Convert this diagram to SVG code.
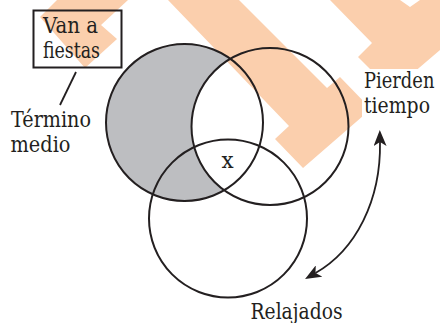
<svg xmlns="http://www.w3.org/2000/svg" width="440" height="323" viewBox="0 0 440 323">
<style>
.wm{fill:#fbcfad;stroke:none}
.ring{fill:none;stroke:#231f20;stroke-width:2}
.ln{fill:none;stroke:#231f20;stroke-width:1.8}
.t{font-family:"DejaVu Serif","Liberation Serif",serif;font-size:21.5px;fill:#231f20}
</style>
<defs>
<marker id="ah" viewBox="0 0 16 13" refX="4" refY="6.5" markerWidth="16" markerHeight="13" markerUnits="userSpaceOnUse" orient="auto-start-reverse">
<path d="M16,6.5 L0,0 L4,6.5 L0,13 Z" fill="#231f20"/>
</marker>
</defs>
<rect width="440" height="323" fill="#ffffff"/>
<g id="watermark">
<polygon class="wm" points="57,0 128,0 101,25 117,39 85,68 40,17"/>
<polygon class="wm" points="168,0 239,0 327,88 340,77 371,109 303,168 275,139 289,126"/>
<polygon class="wm" points="330,0 400,0 410,7 420,0 440,0 440,50 392,91 358,57 372,43"/>
</g>
<g id="shade">
<path d="M230.3,58.8 A78.5,78.5 0 1 0 224.2,190.2 A78.5,78.5 0 0 1 230.3,58.8 Z" fill="#bdbec1"/>
</g>
<g id="circle-fiestas"><circle class="ring" cx="184.5" cy="122.5" r="78.5"/></g>
<g id="circle-pierden"><circle class="ring" cx="270" cy="126.5" r="78.5"/></g>
<g id="circle-relajados"><circle class="ring" cx="228" cy="218.5" r="79"/></g>
<g id="connectors">
<line class="ln" x1="76" y1="72" x2="60" y2="105"/>
<path class="ln" d="M380,142 C381,200 356,250 315.5,273" marker-start="url(#ah)" marker-end="url(#ah)"/>
</g>
<g id="label-van-a-fiestas">
<rect x="33.5" y="10.5" width="88" height="57" fill="none" stroke="#231f20" stroke-width="2"/>
<text class="t" x="43" y="32.7" textLength="55" lengthAdjust="spacingAndGlyphs">Van a</text>
<text class="t" x="43" y="58.3" textLength="57" lengthAdjust="spacingAndGlyphs">fiestas</text>
</g>
<g id="label-termino-medio">
<text class="t" x="11" y="126.7" textLength="80" lengthAdjust="spacingAndGlyphs">Término</text>
<text class="t" x="10.5" y="151.7" textLength="60" lengthAdjust="spacingAndGlyphs">medio</text>
</g>
<g id="label-pierden-tiempo">
<rect x="362" y="69" width="78" height="51" fill="#ffffff"/>
<text class="t" transform="translate(364,87.7) scale(0.8,1)" x="0" y="0" textLength="88" lengthAdjust="spacingAndGlyphs">Pierden</text>
<text class="t" transform="translate(364,113.3) scale(0.8,1)" x="0" y="0" textLength="82.5" lengthAdjust="spacingAndGlyphs">tiempo</text>
</g>
<g id="label-relajados">
<text class="t" x="250.5" y="319.3" textLength="92" lengthAdjust="spacingAndGlyphs">Relajados</text>
</g>
<g id="label-x">
<text class="t" x="227.5" y="168.3" text-anchor="middle">x</text>
</g>
</svg>
